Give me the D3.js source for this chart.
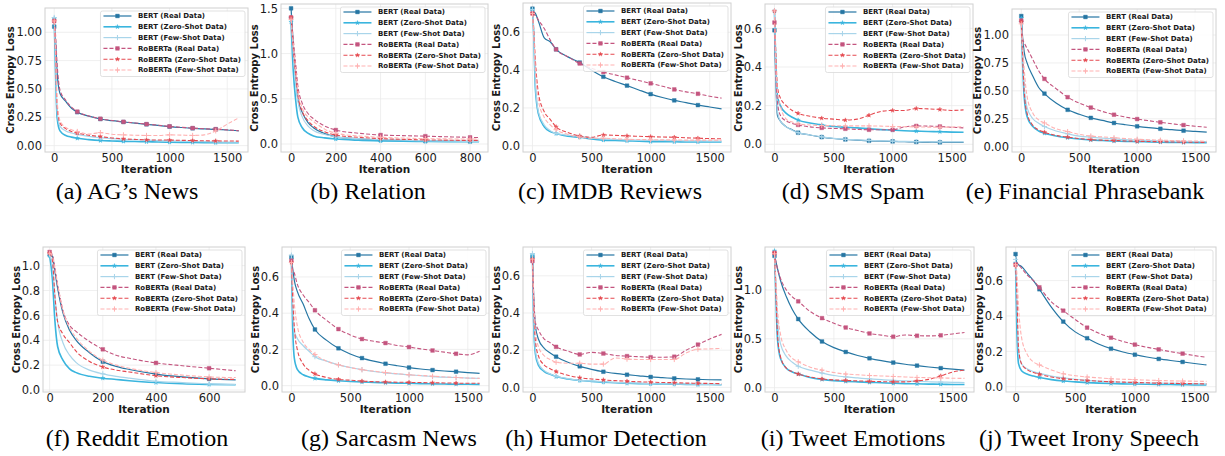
<!DOCTYPE html>
<html>
<head>
<meta charset="utf-8">
<script src="https://cdn.jsdelivr.net/npm/d3@7"></script>
<style>
  body { margin: 0; background: #fff; }
  svg { display: block; }
</style>
</head>
<body>
<svg id="chart" width="1225" height="456"></svg>
<script>
// ---- iteration grids (x values) ----
let ITER_LONG = [0, 10, 25, 50, 100, 150, 200, 300, 400, 500, 600, 700, 800, 900, 1000, 1100, 1200, 1300, 1400, 1500, 1600];
let ITER_RELATION = [0, 10, 20, 30, 50, 75, 100, 150, 200, 300, 400, 500, 600, 700, 800, 840];
let ITER_REDDIT = [0, 10, 20, 30, 50, 75, 100, 150, 200, 250, 300, 400, 500, 600, 700];

let SERIES_NAMES = [
    "BERT (Real Data)", "BERT (Zero-Shot Data)", "BERT (Few-Shot Data)",
    "RoBERTa (Real Data)", "RoBERTa (Zero-Shot Data)", "RoBERTa (Few-Shot Data)"
];

let CAPTIONS = [
    "(a) AG\u2019s News", "(b) Relation", "(c) IMDB Reviews", "(d) SMS Spam", "(e) Financial Phrasebank",
    "(f) Reddit Emotion", "(g) Sarcasm News", "(h) Humor Detection", "(i) Tweet Emotions", "(j) Tweet Irony Speech"
];

let X_TICKS_LONG = [0, 500, 1000, 1500];
let X_TICKS_RELATION = [0, 200, 400, 600, 800];
let X_TICKS_REDDIT = [0, 200, 400, 600];

// ---- (a) AG's News ----
let agBertReal = [1.05, 0.95, 0.65, 0.46, 0.39, 0.33, 0.295, 0.26, 0.235, 0.22, 0.209, 0.198, 0.188, 0.178, 0.168, 0.16, 0.153, 0.148, 0.144, 0.138, 0.13];
let agBertZero = [1.12, 0.7, 0.25, 0.13, 0.09, 0.075, 0.065, 0.053, 0.045, 0.041, 0.038, 0.036, 0.034, 0.032, 0.03, 0.029, 0.028, 0.027, 0.026, 0.025, 0.025];
let agBertFew = [1.13, 0.8, 0.3, 0.17, 0.13, 0.112, 0.1, 0.082, 0.07, 0.062, 0.056, 0.052, 0.048, 0.045, 0.042, 0.04, 0.037, 0.035, 0.033, 0.031, 0.03];
let agRobReal = [1.1, 1.0, 0.72, 0.49, 0.4, 0.34, 0.3, 0.262, 0.237, 0.222, 0.21, 0.2, 0.19, 0.18, 0.17, 0.162, 0.155, 0.149, 0.145, 0.139, 0.132];
let agRobZero = [1.1, 0.85, 0.35, 0.2, 0.15, 0.125, 0.11, 0.092, 0.08, 0.068, 0.06, 0.055, 0.051, 0.05, 0.049, 0.047, 0.045, 0.043, 0.042, 0.041, 0.04];
let agRobFew = [1.1, 0.9, 0.4, 0.22, 0.16, 0.14, 0.125, 0.102, 0.115, 0.1, 0.095, 0.092, 0.09, 0.09, 0.095, 0.093, 0.09, 0.095, 0.13, 0.19, 0.245];

// ---- (b) Relation ----
let relBertReal = [1.5, 1.1, 0.75, 0.5, 0.35, 0.24, 0.18, 0.115, 0.08, 0.058, 0.045, 0.04, 0.035, 0.032, 0.03, 0.03];
let relBertZero = [1.35, 0.8, 0.5, 0.3, 0.18, 0.12, 0.09, 0.068, 0.055, 0.042, 0.035, 0.031, 0.028, 0.026, 0.025, 0.025];
let relBertFew = [1.4, 1.0, 0.7, 0.48, 0.3, 0.2, 0.15, 0.105, 0.08, 0.06, 0.05, 0.042, 0.037, 0.033, 0.03, 0.03];
let relRobReal = [1.4, 1.15, 0.9, 0.65, 0.45, 0.34, 0.28, 0.2, 0.155, 0.12, 0.1, 0.093, 0.087, 0.08, 0.074, 0.072];
let relRobZero = [1.4, 1.05, 0.78, 0.55, 0.36, 0.26, 0.2, 0.135, 0.1, 0.075, 0.06, 0.052, 0.046, 0.043, 0.04, 0.04];
let relRobFew = [1.38, 1.1, 0.85, 0.6, 0.4, 0.3, 0.25, 0.165, 0.12, 0.09, 0.075, 0.066, 0.06, 0.057, 0.055, 0.055];

// ---- (c) IMDB Reviews ----
let imdbBertReal = [0.725, 0.71, 0.7, 0.66, 0.57, 0.55, 0.51, 0.47, 0.44, 0.4, 0.365, 0.34, 0.318, 0.295, 0.273, 0.255, 0.24, 0.228, 0.215, 0.205, 0.195];
let imdbBertZero = [0.72, 0.6, 0.3, 0.17, 0.1, 0.075, 0.065, 0.05, 0.045, 0.036, 0.03, 0.028, 0.026, 0.024, 0.022, 0.021, 0.021, 0.02, 0.02, 0.02, 0.02];
let imdbBertFew = [0.72, 0.62, 0.33, 0.18, 0.11, 0.08, 0.065, 0.056, 0.05, 0.042, 0.036, 0.033, 0.031, 0.03, 0.029, 0.028, 0.027, 0.026, 0.026, 0.025, 0.025];
let imdbRobReal = [0.7, 0.695, 0.69, 0.665, 0.62, 0.56, 0.51, 0.47, 0.435, 0.41, 0.39, 0.375, 0.36, 0.345, 0.33, 0.315, 0.298, 0.285, 0.275, 0.262, 0.252];
let imdbRobZero = [0.7, 0.62, 0.45, 0.28, 0.18, 0.14, 0.1, 0.07, 0.052, 0.045, 0.057, 0.055, 0.052, 0.05, 0.048, 0.046, 0.045, 0.042, 0.04, 0.038, 0.037];
let imdbRobFew = [0.7, 0.6, 0.4, 0.24, 0.15, 0.11, 0.085, 0.06, 0.046, 0.04, 0.04, 0.037, 0.034, 0.033, 0.032, 0.031, 0.031, 0.03, 0.03, 0.03, 0.03];

// ---- (d) SMS Spam ----
let smsBertReal = [0.59, 0.35, 0.15, 0.12, 0.09, 0.075, 0.06, 0.048, 0.037, 0.03, 0.025, 0.021, 0.018, 0.016, 0.015, 0.013, 0.012, 0.011, 0.01, 0.01, 0.01];
let smsBertZero = [0.69, 0.45, 0.25, 0.2, 0.16, 0.14, 0.125, 0.11, 0.1, 0.092, 0.088, 0.085, 0.08, 0.076, 0.073, 0.07, 0.068, 0.066, 0.065, 0.063, 0.062];
let smsBertFew = [0.69, 0.4, 0.17, 0.12, 0.09, 0.073, 0.06, 0.048, 0.038, 0.031, 0.026, 0.023, 0.02, 0.018, 0.016, 0.015, 0.014, 0.013, 0.012, 0.012, 0.012];
let smsRobReal = [0.63, 0.4, 0.22, 0.15, 0.12, 0.108, 0.1, 0.09, 0.085, 0.082, 0.08, 0.077, 0.075, 0.075, 0.075, 0.09, 0.095, 0.094, 0.092, 0.088, 0.085];
let smsRobZero = [0.69, 0.5, 0.3, 0.24, 0.2, 0.175, 0.16, 0.145, 0.135, 0.13, 0.125, 0.13, 0.15, 0.17, 0.175, 0.175, 0.185, 0.183, 0.18, 0.175, 0.178];
let smsRobFew = [0.69, 0.45, 0.28, 0.2, 0.13, 0.115, 0.105, 0.1, 0.097, 0.096, 0.095, 0.095, 0.095, 0.094, 0.092, 0.091, 0.09, 0.089, 0.088, 0.089, 0.09];

// ---- (e) Financial Phrasebank ----
let finBertReal = [1.17, 1.0, 0.85, 0.75, 0.63, 0.53, 0.475, 0.39, 0.33, 0.29, 0.258, 0.235, 0.212, 0.196, 0.182, 0.17, 0.16, 0.152, 0.143, 0.137, 0.13];
let finBertZero = [1.15, 0.8, 0.45, 0.27, 0.18, 0.14, 0.12, 0.095, 0.08, 0.068, 0.06, 0.055, 0.05, 0.047, 0.045, 0.042, 0.04, 0.038, 0.037, 0.036, 0.035];
let finBertFew = [1.12, 0.85, 0.55, 0.35, 0.25, 0.21, 0.18, 0.14, 0.115, 0.095, 0.085, 0.077, 0.07, 0.064, 0.06, 0.056, 0.052, 0.05, 0.048, 0.046, 0.045];
let finRobReal = [1.13, 0.97, 0.93, 0.88, 0.78, 0.68, 0.607, 0.52, 0.443, 0.39, 0.35, 0.315, 0.286, 0.265, 0.247, 0.232, 0.218, 0.205, 0.193, 0.183, 0.174];
let finRobZero = [1.12, 0.85, 0.5, 0.3, 0.19, 0.15, 0.13, 0.1, 0.085, 0.072, 0.063, 0.058, 0.055, 0.051, 0.048, 0.046, 0.044, 0.042, 0.04, 0.039, 0.038];
let finRobFew = [1.1, 0.95, 0.7, 0.45, 0.3, 0.24, 0.212, 0.16, 0.135, 0.11, 0.095, 0.087, 0.08, 0.072, 0.066, 0.062, 0.058, 0.055, 0.052, 0.05, 0.048];

// ---- (f) Reddit Emotion ----
let redBertReal = [1.09, 1.08, 0.95, 0.82, 0.62, 0.48, 0.4, 0.3, 0.228, 0.19, 0.165, 0.128, 0.105, 0.09, 0.082];
let redBertZero = [1.08, 0.9, 0.55, 0.35, 0.24, 0.17, 0.14, 0.11, 0.095, 0.085, 0.075, 0.06, 0.05, 0.045, 0.042];
let redBertFew = [1.09, 1.0, 0.75, 0.55, 0.38, 0.28, 0.22, 0.16, 0.13, 0.11, 0.095, 0.07, 0.06, 0.05, 0.045];
let redRobReal = [1.11, 1.09, 0.98, 0.85, 0.64, 0.52, 0.47, 0.39, 0.327, 0.28, 0.255, 0.218, 0.195, 0.175, 0.155];
let redRobZero = [1.1, 1.05, 0.75, 0.55, 0.45, 0.38, 0.31, 0.23, 0.185, 0.16, 0.145, 0.115, 0.1, 0.09, 0.085];
let redRobFew = [1.1, 1.08, 0.97, 0.85, 0.64, 0.5, 0.42, 0.31, 0.24, 0.2, 0.175, 0.14, 0.12, 0.105, 0.1];

// ---- (g) Sarcasm News ----
let sarBertReal = [0.71, 0.65, 0.58, 0.52, 0.45, 0.37, 0.31, 0.25, 0.206, 0.175, 0.152, 0.135, 0.121, 0.11, 0.1, 0.092, 0.086, 0.081, 0.077, 0.072, 0.068];
let sarBertZero = [0.7, 0.35, 0.15, 0.09, 0.06, 0.048, 0.04, 0.032, 0.027, 0.023, 0.02, 0.018, 0.016, 0.014, 0.013, 0.011, 0.01, 0.009, 0.008, 0.008, 0.007];
let sarBertFew = [0.72, 0.45, 0.3, 0.26, 0.22, 0.19, 0.16, 0.135, 0.115, 0.1, 0.088, 0.078, 0.07, 0.065, 0.06, 0.055, 0.05, 0.047, 0.045, 0.042, 0.04];
let sarRobReal = [0.69, 0.64, 0.62, 0.56, 0.5, 0.46, 0.416, 0.36, 0.312, 0.28, 0.257, 0.245, 0.235, 0.222, 0.213, 0.203, 0.194, 0.185, 0.176, 0.17, 0.19];
let sarRobZero = [0.68, 0.5, 0.32, 0.2, 0.12, 0.085, 0.065, 0.045, 0.035, 0.03, 0.025, 0.022, 0.02, 0.019, 0.018, 0.017, 0.016, 0.015, 0.014, 0.013, 0.013];
let sarRobFew = [0.68, 0.58, 0.45, 0.33, 0.24, 0.2, 0.172, 0.135, 0.115, 0.1, 0.088, 0.08, 0.072, 0.066, 0.06, 0.056, 0.052, 0.048, 0.045, 0.042, 0.04];

// ---- (h) Humor Detection ----
let humBertReal = [0.7, 0.5, 0.33, 0.26, 0.21, 0.185, 0.165, 0.135, 0.113, 0.097, 0.084, 0.075, 0.068, 0.062, 0.056, 0.052, 0.048, 0.045, 0.043, 0.041, 0.04];
let humBertZero = [0.71, 0.35, 0.18, 0.12, 0.085, 0.07, 0.058, 0.045, 0.037, 0.032, 0.028, 0.025, 0.022, 0.02, 0.019, 0.018, 0.017, 0.016, 0.015, 0.015, 0.014];
let humBertFew = [0.72, 0.4, 0.2, 0.13, 0.09, 0.072, 0.06, 0.047, 0.038, 0.034, 0.03, 0.027, 0.024, 0.022, 0.02, 0.019, 0.018, 0.017, 0.016, 0.016, 0.015];
let humRobReal = [0.68, 0.5, 0.35, 0.31, 0.26, 0.24, 0.218, 0.195, 0.177, 0.188, 0.182, 0.172, 0.168, 0.165, 0.162, 0.162, 0.165, 0.2, 0.23, 0.26, 0.285];
let humRobZero = [0.69, 0.45, 0.25, 0.17, 0.12, 0.1, 0.085, 0.065, 0.052, 0.045, 0.04, 0.036, 0.033, 0.03, 0.028, 0.026, 0.025, 0.023, 0.022, 0.021, 0.02];
let humRobFew = [0.69, 0.5, 0.3, 0.22, 0.17, 0.15, 0.135, 0.13, 0.13, 0.125, 0.125, 0.158, 0.152, 0.15, 0.15, 0.15, 0.15, 0.185, 0.205, 0.207, 0.21];

// ---- (i) Tweet Emotions ----
let emoBertReal = [1.35, 1.3, 1.22, 1.1, 0.93, 0.8, 0.702, 0.57, 0.473, 0.41, 0.366, 0.33, 0.301, 0.277, 0.257, 0.24, 0.226, 0.212, 0.2, 0.19, 0.18];
let emoBertZero = [1.4, 1.0, 0.5, 0.3, 0.2, 0.16, 0.14, 0.105, 0.085, 0.072, 0.065, 0.06, 0.055, 0.05, 0.045, 0.042, 0.04, 0.037, 0.035, 0.033, 0.032];
let emoBertFew = [1.38, 1.1, 0.7, 0.45, 0.32, 0.26, 0.22, 0.18, 0.15, 0.125, 0.11, 0.1, 0.09, 0.082, 0.075, 0.07, 0.065, 0.061, 0.058, 0.055, 0.052];
let emoRobReal = [1.38, 1.3, 1.22, 1.12, 1.0, 0.93, 0.884, 0.78, 0.712, 0.66, 0.616, 0.585, 0.555, 0.538, 0.522, 0.54, 0.532, 0.53, 0.536, 0.55, 0.565];
let emoRobZero = [1.38, 1.05, 0.55, 0.32, 0.2, 0.165, 0.14, 0.11, 0.09, 0.08, 0.075, 0.07, 0.065, 0.062, 0.06, 0.06, 0.07, 0.085, 0.12, 0.16, 0.18];
let emoRobFew = [1.37, 1.15, 0.8, 0.55, 0.38, 0.3, 0.265, 0.21, 0.18, 0.155, 0.14, 0.132, 0.125, 0.12, 0.115, 0.11, 0.105, 0.102, 0.1, 0.097, 0.095];

// ---- (j) Tweet Irony Speech ----
let ironyBertReal = [0.75, 0.7, 0.69, 0.68, 0.64, 0.6, 0.551, 0.45, 0.368, 0.31, 0.274, 0.24, 0.215, 0.196, 0.181, 0.168, 0.157, 0.148, 0.14, 0.131, 0.123];
let ironyBertZero = [0.7, 0.35, 0.13, 0.09, 0.07, 0.06, 0.052, 0.04, 0.032, 0.027, 0.023, 0.02, 0.018, 0.016, 0.015, 0.014, 0.013, 0.012, 0.011, 0.01, 0.01];
let ironyBertFew = [0.72, 0.5, 0.2, 0.13, 0.1, 0.085, 0.075, 0.06, 0.05, 0.042, 0.036, 0.032, 0.028, 0.025, 0.023, 0.021, 0.02, 0.019, 0.018, 0.017, 0.016];
let ironyRobReal = [0.69, 0.7, 0.69, 0.67, 0.63, 0.6, 0.562, 0.48, 0.43, 0.38, 0.334, 0.302, 0.277, 0.256, 0.238, 0.223, 0.211, 0.198, 0.187, 0.176, 0.166];
let ironyRobZero = [0.69, 0.55, 0.22, 0.13, 0.095, 0.08, 0.07, 0.055, 0.045, 0.04, 0.035, 0.031, 0.028, 0.026, 0.024, 0.022, 0.02, 0.019, 0.018, 0.017, 0.016];
let ironyRobFew = [0.69, 0.65, 0.45, 0.28, 0.18, 0.14, 0.123, 0.095, 0.073, 0.062, 0.055, 0.05, 0.045, 0.042, 0.04, 0.037, 0.035, 0.033, 0.032, 0.031, 0.03];

// ---- styles ----
let SERIES_STYLES = [
    { color: "#2676a3", width: 1.2, dash: null, marker: "square" },
    { color: "#3ab5de", width: 1.6, dash: null, marker: "star" },
    { color: "#a9d5ea", width: 1.2, dash: null, marker: "plus" },
    { color: "#c4557f", width: 1.1, dash: "4,2", marker: "square" },
    { color: "#e5484f", width: 1.1, dash: "4,2", marker: "star" },
    { color: "#ffb1b1", width: 1.1, dash: "4,2", marker: "plus" }
];

let GRID_COLOR = "#ebebeb";
let FRAME_COLOR = "#d0d0d0";
let TEXT_COLOR = "#1a1a1a";
let MARK_EVERY = 200;
let LONG_X = [-80, 1680];

let ROW1 = [8, 152];
let ROW2 = [247, 392];

/**
 * Layout of every subplot: pixel box [left, top, right, bottom], axis domains,
 * ticks and caption placement.
 */
let PANELS = [
    { series: [agBertReal, agBertZero, agBertFew, agRobReal, agRobZero, agRobFew], iters: ITER_LONG,
      box: [45, ROW1[0], 248, ROW1[1]], xDomain: LONG_X, yDomain: [-0.056, 1.214],
      xTicks: X_TICKS_LONG, yTicks: [0, 0.25, 0.5, 0.75, 1.0], yFmt: ".2f", capX: 127, capY: 199 },
    { series: [relBertReal, relBertZero, relBertFew, relRobReal, relRobZero, relRobFew], iters: ITER_RELATION,
      box: [281, 4, 488, ROW1[1]], xDomain: [-45, 880], yDomain: [-0.088, 1.548],
      xTicks: X_TICKS_RELATION, yTicks: [0, 0.5, 1.0, 1.5], yFmt: ".1f", capX: 368, capY: 199 },
    { series: [imdbBertReal, imdbBertZero, imdbBertFew, imdbRobReal, imdbRobZero, imdbRobFew], iters: ITER_LONG,
      box: [523, 3, 731, ROW1[1]], xDomain: LONG_X, yDomain: [-0.033, 0.755],
      xTicks: X_TICKS_LONG, yTicks: [0, 0.2, 0.4, 0.6], yFmt: ".1f", capX: 610, capY: 199 },
    { series: [smsBertReal, smsBertZero, smsBertFew, smsRobReal, smsRobZero, smsRobFew], iters: ITER_LONG,
      box: [765, 4, 973, ROW1[1]], xDomain: LONG_X, yDomain: [-0.04, 0.726],
      xTicks: X_TICKS_LONG, yTicks: [0, 0.2, 0.4, 0.6], yFmt: ".1f", capX: 853, capY: 199 },
    { series: [finBertReal, finBertZero, finBertFew, finRobReal, finRobZero, finRobFew], iters: ITER_LONG,
      box: [1012, 9, 1216, ROW1[1]], xDomain: LONG_X, yDomain: [-0.048, 1.233],
      xTicks: X_TICKS_LONG, yTicks: [0, 0.25, 0.5, 0.75, 1.0], yFmt: ".2f", capX: 1085, capY: 199 },
    { series: [redBertReal, redBertZero, redBertFew, redRobReal, redRobZero, redRobFew], iters: ITER_REDDIT,
      box: [43, ROW2[0], 245, ROW2[1]], xDomain: [-25, 735], yDomain: [-0.016, 1.15],
      xTicks: X_TICKS_REDDIT, yTicks: [0, 0.2, 0.4, 0.6, 0.8, 1.0], yFmt: ".1f", capX: 137, capY: 446 },
    { series: [sarBertReal, sarBertZero, sarBertFew, sarRobReal, sarRobZero, sarRobFew], iters: ITER_LONG,
      box: [282, ROW2[0], 489, ROW2[1]], xDomain: LONG_X, yDomain: [-0.035, 0.765],
      xTicks: X_TICKS_LONG, yTicks: [0, 0.2, 0.4, 0.6], yFmt: ".1f", capX: 389, capY: 446 },
    { series: [humBertReal, humBertZero, humBertFew, humRobReal, humRobZero, humRobFew], iters: ITER_LONG,
      box: [523, ROW2[0], 731, ROW2[1]], xDomain: LONG_X, yDomain: [-0.025, 0.755],
      xTicks: X_TICKS_LONG, yTicks: [0, 0.2, 0.4, 0.6], yFmt: ".1f", capX: 606, capY: 446 },
    { series: [emoBertReal, emoBertZero, emoBertFew, emoRobReal, emoRobZero, emoRobFew], iters: ITER_LONG,
      box: [765, ROW2[0], 974, ROW2[1]], xDomain: LONG_X, yDomain: [-0.044, 1.44],
      xTicks: X_TICKS_LONG, yTicks: [0, 0.5, 1.0], yFmt: ".1f", capX: 853, capY: 446 },
    { series: [ironyBertReal, ironyBertZero, ironyBertFew, ironyRobReal, ironyRobZero, ironyRobFew], iters: ITER_LONG,
      box: [1006, ROW2[0], 1216, ROW2[1]], xDomain: LONG_X, yDomain: [-0.03, 0.79],
      xTicks: X_TICKS_LONG, yTicks: [0, 0.2, 0.4, 0.6], yFmt: ".1f", capX: 1089, capY: 446 }
];

// legend geometry, in pixels
let LEGEND = { font: 7, row: 10.8, padTop: 5, padBottom: 6.5, padLeft: 3, padRight: 4, handle: 28, gap: 6.5, inset: 3 };

let svg = d3.select("#chart");
let defs = svg.append("defs");

PANELS.forEach((panel, i) => drawPanel(panel, i));

/**
 * Draw a marker of the given style centred on (x, y).
 */
function drawMarker(g, style, x, y) {
    if (style.marker === "plus") {
        g.append("path")
            .attr("d", "M-2.6,0H2.6M0,-2.6V2.6")
            .attr("transform", `translate(${x},${y})`)
            .attr("stroke", style.color)
            .attr("stroke-width", 1)
            .attr("fill", "none");
        return;
    }
    let type = style.marker === "square" ? d3.symbolSquare : d3.symbolStar;
    let size = style.marker === "square" ? 14 : 6;
    g.append("path")
        .attr("d", d3.symbol().type(type).size(size)())
        .attr("transform", `translate(${x},${y})`)
        .attr("fill", style.color)
        .attr("stroke", style.color)
        .attr("stroke-width", 0.4);
}

/**
 * Draw one subplot: grid, loss curves, frame, axes, labels, legend and caption.
 */
function drawPanel(panel, idx) {
    let [left, top, right, bottom] = panel.box;
    let x = d3.scaleLinear().domain(panel.xDomain).range([left, right]);
    let y = d3.scaleLinear().domain(panel.yDomain).range([bottom, top]);
    let g = svg.append("g").attr("class", `panel panel-${idx}`);

    // grid
    let grid = g.append("g").attr("stroke", GRID_COLOR).attr("stroke-width", 0.8);
    grid.selectAll("line.gx").data(panel.xTicks).join("line")
        .attr("class", "gx")
        .attr("x1", d => x(d)).attr("x2", d => x(d))
        .attr("y1", top).attr("y2", bottom);
    grid.selectAll("line.gy").data(panel.yTicks).join("line")
        .attr("class", "gy")
        .attr("x1", left).attr("x2", right)
        .attr("y1", d => y(d)).attr("y2", d => y(d));

    // clip curves to the frame
    let clipId = `clip-${idx}`;
    defs.append("clipPath").attr("id", clipId)
        .append("rect")
        .attr("x", left).attr("y", top)
        .attr("width", right - left).attr("height", bottom - top);

    let plot = g.append("g").attr("clip-path", `url(#${clipId})`);
    let line = d3.line()
        .x(d => x(d[0]))
        .y(d => y(d[1]))
        .curve(d3.curveMonotoneX);

    let lastIter = panel.iters[panel.iters.length - 1];
    panel.series.forEach((values, i) => {
        let style = SERIES_STYLES[i];
        let points = panel.iters.map((it, j) => [it, values[j]]);
        plot.append("path")
            .datum(points)
            .attr("d", line)
            .attr("fill", "none")
            .attr("stroke", style.color)
            .attr("stroke-width", style.width)
            .attr("stroke-dasharray", style.dash);
        points
            .filter(p => p[0] % MARK_EVERY === 0 && p[0] < lastIter)
            .forEach(p => drawMarker(plot, style, x(p[0]), y(p[1])));
    });

    // frame
    g.append("rect")
        .attr("x", left).attr("y", top)
        .attr("width", right - left).attr("height", bottom - top)
        .attr("fill", "none")
        .attr("stroke", FRAME_COLOR)
        .attr("stroke-width", 1);

    // axes
    let xAxis = g.append("g")
        .attr("transform", `translate(0,${bottom})`)
        .call(d3.axisBottom(x).tickValues(panel.xTicks).tickSize(0).tickPadding(2).tickFormat(d3.format("d")));
    let yAxis = g.append("g")
        .attr("transform", `translate(${left},0)`)
        .call(d3.axisLeft(y).tickValues(panel.yTicks).tickSize(0).tickPadding(3).tickFormat(d3.format(panel.yFmt)));
    [xAxis, yAxis].forEach(axis => {
        axis.select(".domain").remove();
        axis.attr("font-family", "'DejaVu Sans', sans-serif").attr("font-size", 11.5);
        axis.selectAll("text").attr("fill", TEXT_COLOR);
    });

    // axis titles
    let bb = yAxis.node().getBBox();
    g.append("text")
        .attr("transform", `translate(${left + bb.x - 2},${(top + bottom) / 2}) rotate(-90)`)
        .attr("text-anchor", "middle")
        .attr("font-family", "'DejaVu Sans', sans-serif")
        .attr("font-weight", "bold")
        .attr("font-size", 10)
        .attr("fill", TEXT_COLOR)
        .text("Cross Entropy Loss");
    g.append("text")
        .attr("x", (left + right) / 2)
        .attr("y", bottom + 21)
        .attr("text-anchor", "middle")
        .attr("font-family", "'DejaVu Sans', sans-serif")
        .attr("font-weight", "bold")
        .attr("font-size", 10.5)
        .attr("fill", TEXT_COLOR)
        .text("Iteration");

    drawLegend(g, right, top);

    // caption
    g.append("text")
        .attr("x", panel.capX)
        .attr("y", panel.capY)
        .attr("text-anchor", "middle")
        .attr("font-family", "'Liberation Serif', 'Times New Roman', serif")
        .attr("font-size", 24)
        .attr("fill", "#000")
        .text(CAPTIONS[idx]);
}

/**
 * Draw the legend box in the upper right corner of a subplot.
 */
function drawLegend(g, right, top) {
    let legend = g.append("g");
    let box = legend.append("rect")
        .attr("fill", "#fff")
        .attr("fill-opacity", 0.85)
        .attr("stroke", "#d9d9d9")
        .attr("stroke-width", 0.8)
        .attr("rx", 2);

    let maxW = 0;
    SERIES_NAMES.forEach((name, i) => {
        let style = SERIES_STYLES[i];
        let cy = LEGEND.padTop + i * LEGEND.row;
        let hx = LEGEND.padLeft;
        legend.append("line")
            .attr("x1", hx).attr("x2", hx + LEGEND.handle)
            .attr("y1", cy).attr("y2", cy)
            .attr("stroke", style.color)
            .attr("stroke-width", style.width)
            .attr("stroke-dasharray", style.dash);
        drawMarker(legend, style, hx + LEGEND.handle / 2, cy);
        let t = legend.append("text")
            .attr("x", hx + LEGEND.handle + LEGEND.gap)
            .attr("y", cy)
            .attr("dy", "0.35em")
            .attr("font-family", "'DejaVu Sans', sans-serif")
            .attr("font-weight", "bold")
            .attr("font-size", LEGEND.font)
            .attr("fill", TEXT_COLOR)
            .text(name);
        maxW = Math.max(maxW, t.node().getComputedTextLength());
    });

    let w = LEGEND.padLeft + LEGEND.handle + LEGEND.gap + maxW + LEGEND.padRight;
    let h = LEGEND.padTop + (SERIES_NAMES.length - 1) * LEGEND.row + LEGEND.padBottom;
    box.attr("width", w).attr("height", h);
    legend.attr("transform", `translate(${right - LEGEND.inset - w},${top + LEGEND.inset})`);
}
</script>
</body>
</html>
